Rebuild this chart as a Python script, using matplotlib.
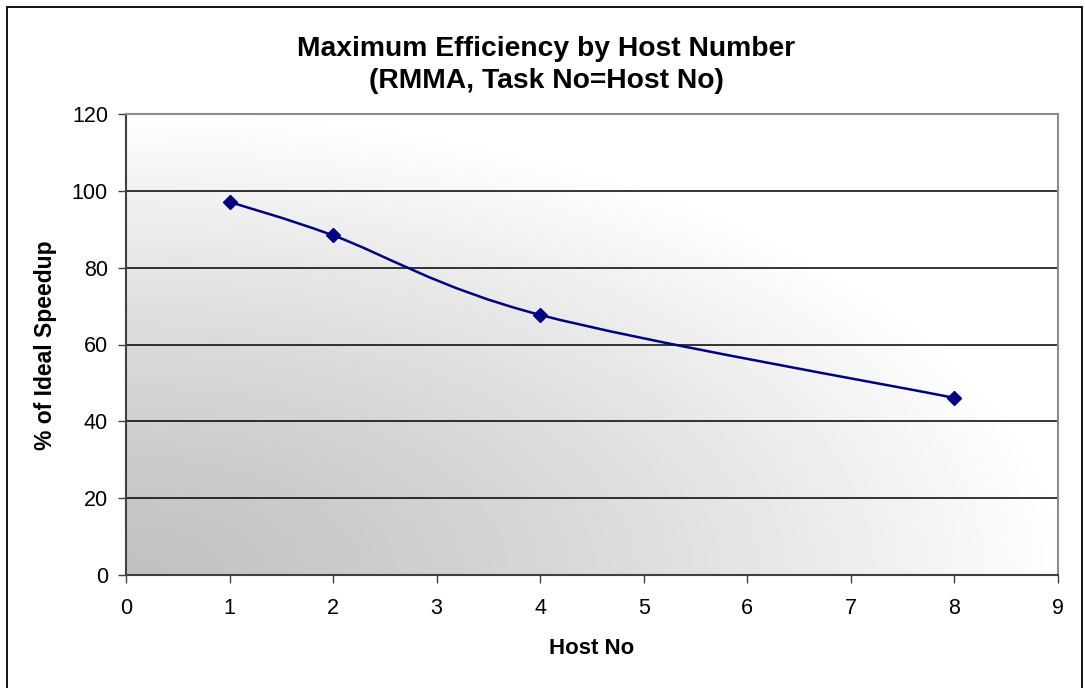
import numpy as np
import matplotlib
matplotlib.use("Agg")
import matplotlib.pyplot as plt
from matplotlib.patches import Rectangle
from matplotlib.path import Path
from matplotlib.patches import PathPatch

plt.rcParams['font.family'] = ['Liberation Sans', 'DejaVu Sans']

# Data
host_no = [1, 2, 4, 8]
efficiency = [97.1, 88.4, 67.7, 46.1]
x_ticks = list(range(0, 10))
y_ticks = [0, 20, 40, 60, 80, 100, 120]
title = "Maximum Efficiency by Host Number\n(RMMA, Task No=Host No)"
x_label = "Host No"
y_label = "% of Ideal Speedup"

W, H, DPI = 1085, 688, 100
fig = plt.figure(figsize=(W / DPI, H / DPI), dpi=DPI)
fig.patch.set_facecolor('white')

# Chart-area frame (runs past the bottom edge)
fig.patches.append(Rectangle((7 / W, -0.05), (1082 - 7) / W, (H - 7) / H + 0.05,
                             transform=fig.transFigure, fill=False,
                             edgecolor='black', linewidth=1.3, zorder=0))

L, R, T, B = 126, 1058, 114, 575
ax = fig.add_axes([L / W, (H - B) / H, (R - L) / W, (B - T) / H])
ax.set_xlim(0, 9)
ax.set_ylim(0, 120)

# Corner gradient fill of the plot area (dark bottom-left, white top-right)
ny, nx = 300, 600
u = np.linspace(0, 1, nx)[None, :]
v = np.linspace(0, 1, ny)[:, None]
t = np.clip(np.sqrt(u ** 2 + v ** 2), 0, 1)
c = 0.76 + 0.24 * t ** 1.3
img = np.dstack([c, c, c])
ax.imshow(img, extent=[0, 9, 0, 120], origin='lower', aspect='auto',
          interpolation='bilinear', zorder=0)

# Gridlines
for yv in y_ticks[1:-1]:
    ax.axhline(yv, color='black', linewidth=1.1, zorder=1)

ax.set_xticks(x_ticks)
ax.set_yticks(y_ticks)
ax.tick_params(axis='both', direction='out', length=6, width=1, color='#404040',
               labelsize=15.5, labelcolor='black')
ax.tick_params(axis='x', pad=10.5)
ax.tick_params(axis='y', pad=7)

for side in ['top', 'right']:
    ax.spines[side].set_color('#8c8c8c')
    ax.spines[side].set_linewidth(1.5)
for side in ['left', 'bottom']:
    ax.spines[side].set_color('#404040')
    ax.spines[side].set_linewidth(1.5)

# Smoothed line (cardinal spline as cubic Beziers in display space)
fig.canvas.draw()
pts = ax.transData.transform(np.column_stack([host_no, efficiency]))
n = len(pts)
verts = [pts[0]]
codes = [Path.MOVETO]
for i in range(n - 1):
    p0 = pts[i - 1] if i > 0 else pts[i]
    p1 = pts[i]
    p2 = pts[i + 1]
    p3 = pts[i + 2] if i + 2 < n else pts[i + 1]
    c1 = p1 + (p2 - p0) / 6.0
    c2 = p2 - (p3 - p1) / 6.0
    verts += [c1, c2, p2]
    codes += [Path.CURVE4] * 3
verts = ax.transData.inverted().transform(np.array(verts))
ax.add_patch(PathPatch(Path(verts, codes), facecolor='none', edgecolor='#000080',
                       linewidth=1.8, zorder=3))
ax.plot(host_no, efficiency, linestyle='none', marker='D', markersize=7,
        color='#000080', zorder=4, clip_on=False)

fig.text(546 / W, 1 - 65 / H, title, ha='center', va='center', fontsize=20.3,
         fontweight='bold', linespacing=1.3)
fig.text(592 / W, 1 - 648 / H, x_label, ha='center', va='center', fontsize=16,
         fontweight='bold')
fig.text(45.5 / W, 1 - 345 / H, y_label, ha='center', va='center', fontsize=16.5,
         fontweight='bold', rotation=90)

fig.savefig('out.png', dpi=DPI)
